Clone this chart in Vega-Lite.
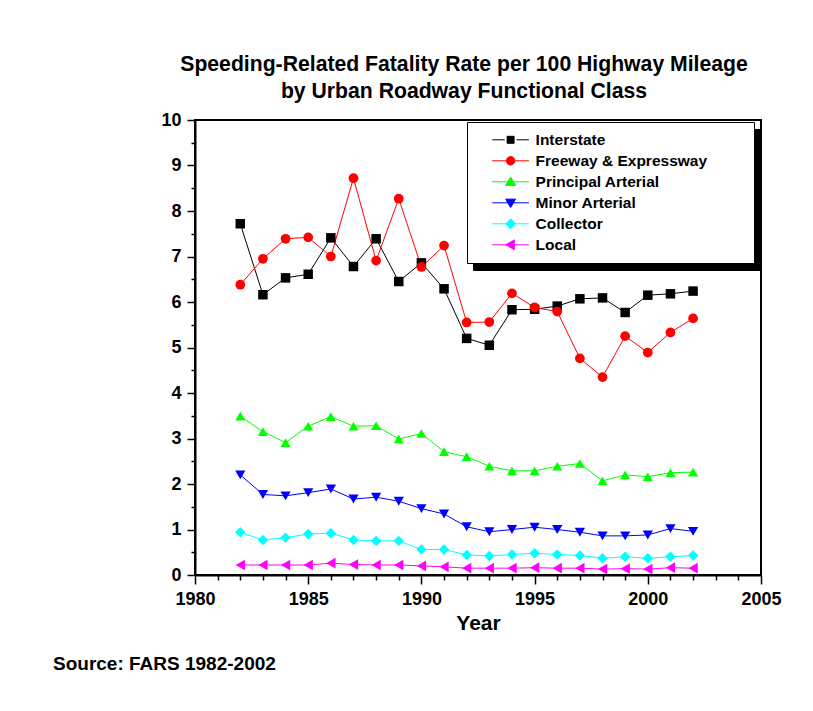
{
  "$schema": "https://vega.github.io/schema/vega-lite/v6.json",
  "background": "white",
  "padding": {"left": 52, "top": 53, "right": 0, "bottom": 0},
  "title": {
    "text": ["Speeding-Related Fatality Rate per 100 Highway Mileage", "by Urban Roadway Functional Class"],
    "fontSize": 21.2, "fontWeight": "bold", "font": "Liberation Sans", "color": "#000000",
    "lineHeight": 27, "anchor": "middle", "offset": 8, "dx": 47
  },
  "config": {
    "font": "Liberation Sans",
    "view": {"stroke": "#000000", "strokeWidth": 2},
    "axis": {
      "grid": false, "domainColor": "#000000", "domainWidth": 2,
      "tickColor": "#000000", "tickWidth": 1.5,
      "labelFont": "Liberation Sans", "labelFontSize": 18, "labelFontWeight": "bold", "labelColor": "#000000",
      "titleFont": "Liberation Sans", "titleFontSize": 21, "titleFontWeight": "bold", "titleColor": "#000000",
      "labelFlush": false, "labelOverlap": false
    }
  },
  "datasets": {
    "rates": [
      {"year":1982,"series":"Interstate","rate":7.72},{"year":1983,"series":"Interstate","rate":6.16},{"year":1984,"series":"Interstate","rate":6.53},{"year":1985,"series":"Interstate","rate":6.61},{"year":1986,"series":"Interstate","rate":7.41},{"year":1987,"series":"Interstate","rate":6.78},{"year":1988,"series":"Interstate","rate":7.39},{"year":1989,"series":"Interstate","rate":6.45},{"year":1990,"series":"Interstate","rate":6.86},{"year":1991,"series":"Interstate","rate":6.29},{"year":1992,"series":"Interstate","rate":5.20},{"year":1993,"series":"Interstate","rate":5.05},{"year":1994,"series":"Interstate","rate":5.83},{"year":1995,"series":"Interstate","rate":5.84},{"year":1996,"series":"Interstate","rate":5.91},{"year":1997,"series":"Interstate","rate":6.07},{"year":1998,"series":"Interstate","rate":6.09},{"year":1999,"series":"Interstate","rate":5.77},{"year":2000,"series":"Interstate","rate":6.15},{"year":2001,"series":"Interstate","rate":6.18},{"year":2002,"series":"Interstate","rate":6.24},
      {"year":1982,"series":"Freeway & Expressway","rate":6.38},{"year":1983,"series":"Freeway & Expressway","rate":6.95},{"year":1984,"series":"Freeway & Expressway","rate":7.39},{"year":1985,"series":"Freeway & Expressway","rate":7.42},{"year":1986,"series":"Freeway & Expressway","rate":7.00},{"year":1987,"series":"Freeway & Expressway","rate":8.72},{"year":1988,"series":"Freeway & Expressway","rate":6.91},{"year":1989,"series":"Freeway & Expressway","rate":8.27},{"year":1990,"series":"Freeway & Expressway","rate":6.77},{"year":1991,"series":"Freeway & Expressway","rate":7.24},{"year":1992,"series":"Freeway & Expressway","rate":5.55},{"year":1993,"series":"Freeway & Expressway","rate":5.56},{"year":1994,"series":"Freeway & Expressway","rate":6.19},{"year":1995,"series":"Freeway & Expressway","rate":5.88},{"year":1996,"series":"Freeway & Expressway","rate":5.79},{"year":1997,"series":"Freeway & Expressway","rate":4.76},{"year":1998,"series":"Freeway & Expressway","rate":4.35},{"year":1999,"series":"Freeway & Expressway","rate":5.25},{"year":2000,"series":"Freeway & Expressway","rate":4.89},{"year":2001,"series":"Freeway & Expressway","rate":5.33},{"year":2002,"series":"Freeway & Expressway","rate":5.64},
      {"year":1982,"series":"Principal Arterial","rate":3.49},{"year":1983,"series":"Principal Arterial","rate":3.15},{"year":1984,"series":"Principal Arterial","rate":2.91},{"year":1985,"series":"Principal Arterial","rate":3.27},{"year":1986,"series":"Principal Arterial","rate":3.48},{"year":1987,"series":"Principal Arterial","rate":3.27},{"year":1988,"series":"Principal Arterial","rate":3.28},{"year":1989,"series":"Principal Arterial","rate":2.99},{"year":1990,"series":"Principal Arterial","rate":3.11},{"year":1991,"series":"Principal Arterial","rate":2.71},{"year":1992,"series":"Principal Arterial","rate":2.60},{"year":1993,"series":"Principal Arterial","rate":2.39},{"year":1994,"series":"Principal Arterial","rate":2.29},{"year":1995,"series":"Principal Arterial","rate":2.29},{"year":1996,"series":"Principal Arterial","rate":2.39},{"year":1997,"series":"Principal Arterial","rate":2.45},{"year":1998,"series":"Principal Arterial","rate":2.07},{"year":1999,"series":"Principal Arterial","rate":2.20},{"year":2000,"series":"Principal Arterial","rate":2.16},{"year":2001,"series":"Principal Arterial","rate":2.25},{"year":2002,"series":"Principal Arterial","rate":2.26},
      {"year":1982,"series":"Minor Arterial","rate":2.20},{"year":1983,"series":"Minor Arterial","rate":1.77},{"year":1984,"series":"Minor Arterial","rate":1.74},{"year":1985,"series":"Minor Arterial","rate":1.81},{"year":1986,"series":"Minor Arterial","rate":1.89},{"year":1987,"series":"Minor Arterial","rate":1.67},{"year":1988,"series":"Minor Arterial","rate":1.71},{"year":1989,"series":"Minor Arterial","rate":1.62},{"year":1990,"series":"Minor Arterial","rate":1.46},{"year":1991,"series":"Minor Arterial","rate":1.34},{"year":1992,"series":"Minor Arterial","rate":1.06},{"year":1993,"series":"Minor Arterial","rate":0.95},{"year":1994,"series":"Minor Arterial","rate":1.00},{"year":1995,"series":"Minor Arterial","rate":1.05},{"year":1996,"series":"Minor Arterial","rate":1.00},{"year":1997,"series":"Minor Arterial","rate":0.94},{"year":1998,"series":"Minor Arterial","rate":0.86},{"year":1999,"series":"Minor Arterial","rate":0.86},{"year":2000,"series":"Minor Arterial","rate":0.88},{"year":2001,"series":"Minor Arterial","rate":1.02},{"year":2002,"series":"Minor Arterial","rate":0.96},
      {"year":1982,"series":"Collector","rate":0.94},{"year":1983,"series":"Collector","rate":0.77},{"year":1984,"series":"Collector","rate":0.82},{"year":1985,"series":"Collector","rate":0.90},{"year":1986,"series":"Collector","rate":0.92},{"year":1987,"series":"Collector","rate":0.77},{"year":1988,"series":"Collector","rate":0.75},{"year":1989,"series":"Collector","rate":0.75},{"year":1990,"series":"Collector","rate":0.56},{"year":1991,"series":"Collector","rate":0.56},{"year":1992,"series":"Collector","rate":0.44},{"year":1993,"series":"Collector","rate":0.42},{"year":1994,"series":"Collector","rate":0.45},{"year":1995,"series":"Collector","rate":0.48},{"year":1996,"series":"Collector","rate":0.45},{"year":1997,"series":"Collector","rate":0.43},{"year":1998,"series":"Collector","rate":0.37},{"year":1999,"series":"Collector","rate":0.40},{"year":2000,"series":"Collector","rate":0.37},{"year":2001,"series":"Collector","rate":0.40},{"year":2002,"series":"Collector","rate":0.43},
      {"year":1982,"series":"Local","rate":0.22},{"year":1983,"series":"Local","rate":0.22},{"year":1984,"series":"Local","rate":0.22},{"year":1985,"series":"Local","rate":0.22},{"year":1986,"series":"Local","rate":0.26},{"year":1987,"series":"Local","rate":0.23},{"year":1988,"series":"Local","rate":0.22},{"year":1989,"series":"Local","rate":0.22},{"year":1990,"series":"Local","rate":0.20},{"year":1991,"series":"Local","rate":0.18},{"year":1992,"series":"Local","rate":0.15},{"year":1993,"series":"Local","rate":0.15},{"year":1994,"series":"Local","rate":0.15},{"year":1995,"series":"Local","rate":0.16},{"year":1996,"series":"Local","rate":0.15},{"year":1997,"series":"Local","rate":0.15},{"year":1998,"series":"Local","rate":0.13},{"year":1999,"series":"Local","rate":0.14},{"year":2000,"series":"Local","rate":0.13},{"year":2001,"series":"Local","rate":0.16},{"year":2002,"series":"Local","rate":0.15}
    ]
  },
  "vconcat": [
    {
      "width": 566,
      "height": 455,
      "title": {"text": "Source: FARS 1982-2002", "orient": "bottom", "anchor": "start", "frame": "group", "dx": -142, "offset": 22, "fontSize": 19, "fontWeight": "bold", "font": "Liberation Sans", "color": "#000000"},
      "data": {"name": "rates"},
      "layer": [
        {
          "mark": {"type": "line", "strokeWidth": 1},
          "encoding": {
            "x": {"field": "year", "type": "quantitative", "title": "Year",
                  "scale": {"domain": [1980, 2005], "nice": false, "zero": false},
                  "axis": {"values": [1980, 1985, 1990, 1995, 2000, 2005],
                           "format": "d", "orient": "bottom",
                           "labelOverlap": false, "labelFlush": false, "labelBound": false,
                           "tickSize": 9, "labelPadding": 6, "titlePadding": 4}},
            "y": {"field": "rate", "type": "quantitative", "title": null,
                  "scale": {"domain": [0, 10], "nice": false},
                  "axis": {"values": [0,1,2,3,4,5,6,7,8,9,10], "format": "d", "orient": "left",
                           "labelOverlap": false, "labelFlush": false,
                           "tickSize": 8, "labelPadding": 6}},
            "detail": {"field": "series"},
            "color": {"field": "series", "type": "nominal",
                      "scale": {"domain": ["Interstate", "Freeway & Expressway", "Principal Arterial", "Minor Arterial", "Collector", "Local"],
                                "range": ["#000000", "#ff0000", "#00ff00", "#0000ff", "#00ffff", "#ff00ff"]},
                      "legend": {"title": " ", "titleOrient": "right", "titlePadding": 209, "orient": "none", "legendX": 278, "legendY": 9,
                                 "strokeColor": "#000000", "fillColor": "#000000", "padding": 7.6, "symbolOffset": 17,
                                 "symbolSize": 1347, "clipHeight": 20.4, "rowPadding": 0, "labelOffset": 6, "labelExpr": "' '",
                                 "labelFont": "Liberation Sans", "labelFontSize": 15.5, "labelFontWeight": "bold", "labelColor": "#000000",
                                 "symbolType": "M-1,-0.27H1V0.27H-1Z", "symbolOpacity": 0, "labelOpacity": 0, "titleOpacity": 0}}
          }
        },
        {
          "mark": {"type": "point", "filled": true, "opacity": 1},
          "encoding": {
            "x": {"field": "year", "type": "quantitative", "axis": null},
            "y": {"field": "rate", "type": "quantitative", "axis": null},
            "color": {"field": "series", "type": "nominal", "legend": null,
                      "scale": {"domain": ["Interstate", "Freeway & Expressway", "Principal Arterial", "Minor Arterial", "Collector", "Local"],
                                "range": ["#000000", "#ff0000", "#00ff00", "#0000ff", "#00ffff", "#ff00ff"]}},
            "shape": {"field": "series", "type": "nominal", "legend": null,
                      "scale": {"domain": ["Interstate", "Freeway & Expressway", "Principal Arterial", "Minor Arterial", "Collector", "Local"],
                                "range": ["square", "circle", "triangle-up", "triangle-down", "diamond", "triangle-left"]}},
            "size": {"field": "series", "type": "nominal", "legend": null,
                     "scale": {"domain": ["Interstate", "Freeway & Expressway", "Principal Arterial", "Minor Arterial", "Collector", "Local"],
                               "range": [90, 115, 137, 128, 151, 137]}}
          }
        },
        {
          "mark": {"type": "point", "filled": true, "opacity": 0},
          "encoding": {
            "x": {"field": "year", "type": "quantitative", "title": null,
                  "axis": {"values": [1981,1982,1983,1984,1986,1987,1988,1989,1991,1992,1993,1994,1996,1997,1998,1999,2001,2002,2003,2004],
                           "orient": "bottom", "labels": false, "domain": false, "tickSize": 5, "title": null}},
            "y": {"field": "rate", "type": "quantitative", "title": null,
                  "axis": {"values": [0.5,1.5,2.5,3.5,4.5,5.5,6.5,7.5,8.5,9.5],
                           "orient": "left", "labels": false, "domain": false, "tickSize": 4, "title": null}},
            "color": {"field": "series", "type": "nominal",
                      "scale": {"domain": ["Interstate", "Freeway & Expressway", "Principal Arterial", "Minor Arterial", "Collector", "Local"],
                                "range": ["#000000", "#ff0000", "#00ff00", "#0000ff", "#00ffff", "#ff00ff"]},
                      "legend": {"title": " ", "titleOrient": "right", "titlePadding": 39, "orient": "none", "legendX": 272, "legendY": 2,
                                 "strokeColor": "#000000", "fillColor": "#ffffff", "padding": 7.6, "symbolOffset": 17,
                                 "symbolSize": 1347, "clipHeight": 20.4, "rowPadding": 0, "labelOffset": 6, "labelLimit": 400,
                                 "labelFont": "Liberation Sans", "labelFontSize": 15.5, "labelFontWeight": "bold", "labelColor": "#000000",
                                 "symbolOpacity": 1, "symbolStrokeWidth": 1,
                                 "encode": {"symbols": {"update": {
                                   "opacity": {"value": 1},
                                   "strokeWidth": {"value": 1},
                                   "fill": {"signal": "['#000000','#ff0000','#00ff00','#0000ff','#00ffff','#ff00ff'][indexof(['Interstate','Freeway & Expressway','Principal Arterial','Minor Arterial','Collector','Local'], datum.value)]"},
                                   "stroke": {"signal": "['#000000','#ff0000','#00ff00','#0000ff','#00ffff','#ff00ff'][indexof(['Interstate','Freeway & Expressway','Principal Arterial','Minor Arterial','Collector','Local'], datum.value)]"}
                                 }}}}},
            "shape": {"field": "series", "type": "nominal",
                      "scale": {"domain": ["Interstate", "Freeway & Expressway", "Principal Arterial", "Minor Arterial", "Collector", "Local"],
                                "range": [
                                  "M-1,0H-0.32M0.32,0H1M-0.19,-0.19H0.19V0.19H-0.19Z",
                                  "M-1,0H1M-0.23,0A0.23,0.23,0,1,0,0.23,0A0.23,0.23,0,1,0,-0.23,0Z",
                                  "M-1,0H1M0,-0.26L0.27,0.2L-0.27,0.2Z",
                                  "M-1,0H1M0,0.26L0.27,-0.2L-0.27,-0.2Z",
                                  "M-1,0H1M0,-0.27L0.25,0L0,0.27L-0.25,0Z",
                                  "M-1,0H1M-0.26,0L0.2,-0.27L0.2,0.27Z"
                                ]},
                      "legend": {"title": " ", "titleOrient": "right", "titlePadding": 39, "orient": "none", "legendX": 272, "legendY": 2,
                                 "strokeColor": "#000000", "fillColor": "#ffffff", "padding": 7.6, "symbolOffset": 17,
                                 "symbolSize": 1347, "clipHeight": 20.4, "rowPadding": 0, "labelOffset": 6, "labelLimit": 400,
                                 "labelFont": "Liberation Sans", "labelFontSize": 15.5, "labelFontWeight": "bold", "labelColor": "#000000",
                                 "symbolOpacity": 1, "symbolStrokeWidth": 1}}
          }
        }
      ],
      "resolve": {"scale": {"color": "independent", "shape": "independent", "size": "independent"},
                  "axis": {"x": "independent", "y": "independent"}}
    }
  ]
}
